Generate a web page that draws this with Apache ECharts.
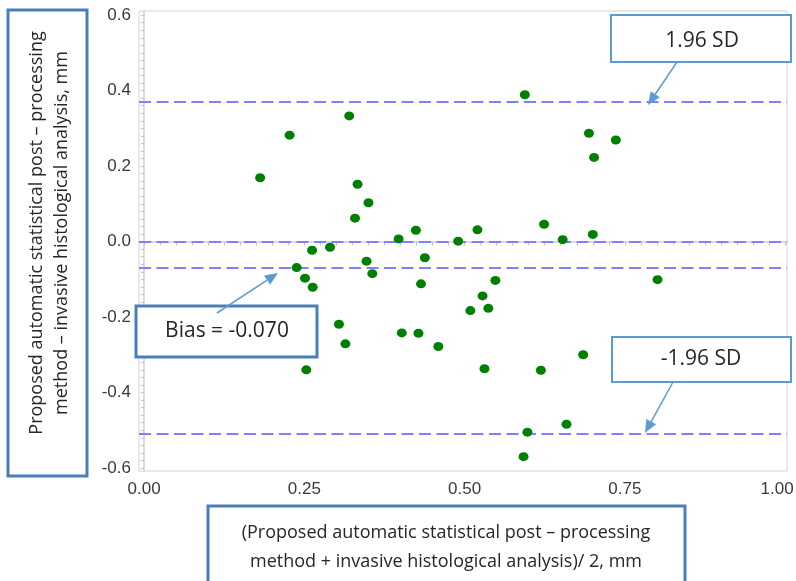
<!DOCTYPE html>
<html>
<head>
<meta charset="utf-8">
<script src="https://cdn.jsdelivr.net/npm/echarts@6/dist/echarts.min.js"></script>
<style>
  html, body { margin: 0; padding: 0; background: #fff; overflow: hidden; }
  #chart { width: 796px; height: 581px; }
</style>
</head>
<body>
<div id="chart"></div>
<script>
// Mean of the two methods (mm)
const meanVals = [
  0.181, 0.227, 0.320, 0.333, 0.350, 0.329, 0.397, 0.424, 0.594, 0.694,
  0.736, 0.702, 0.520, 0.490, 0.624, 0.653, 0.700, 0.262, 0.290, 0.238,
  0.251, 0.263, 0.347, 0.356, 0.438, 0.432, 0.304, 0.314, 0.402, 0.428,
  0.459, 0.253, 0.548, 0.528, 0.509, 0.537, 0.531, 0.619, 0.685, 0.801,
  0.598, 0.659, 0.592
];
// Difference between the two methods (mm)
const diffVals = [
  0.169, 0.282, 0.333, 0.152, 0.103, 0.062, 0.007, 0.030, 0.389, 0.287,
  0.269, 0.223, 0.031, 0.001, 0.046, 0.005, 0.019, -0.023, -0.015, -0.069,
  -0.097, -0.121, -0.052, -0.085, -0.043, -0.112, -0.219, -0.271, -0.242, -0.243,
  -0.278, -0.340, -0.103, -0.144, -0.183, -0.177, -0.337, -0.341, -0.300, -0.101,
  -0.505, -0.484, -0.570
];
// Reference lines: zero, bias and limits of agreement
const zeroLine = 0;
const bias = -0.070;
const upperLoA = 0.370;
const lowerLoA = -0.510;

const xTickLabels = [0, 0.25, 0.5, 0.75, 1.0];
const yTickLabels = [-0.6, -0.4, -0.2, 0, 0.2, 0.4, 0.6];

const yTitle = 'Proposed automatic statistical post \u2013 processing\nmethod \u2013 invasive histological analysis, mm';
const xTitle = '(Proposed automatic statistical post \u2013 processing\nmethod + invasive histological analysis)/ 2, mm';
const biasText = 'Bias = -0.070';
const upperText = '1.96 SD';
const lowerText = '-1.96 SD';

// minor tick positions along each axis
const xMinorTicks = [];
for (let i = 0; i <= 40; i++) xMinorTicks.push(+(i * 0.025).toFixed(3));
const yMinorTicks = [];
for (let i = -30; i <= 30; i++) yMinorTicks.push(+(i * 0.02).toFixed(2));

const points = meanVals.map((m, i) => [m, diffVals[i]]);

const chart = echarts.init(document.getElementById('chart'), null, { renderer: 'canvas' });

const axisGray = '#d2d2d2';
const tickFont = { color: '#3a3a3a', fontFamily: 'Liberation Sans', fontSize: 17 };
const boxBlue = '#4a7ebb';
const lightBlue = '#5b9bd5';
const annoFont = 'Open Sans';

function arrow(x1, y1, x2, y2) {
  const ang = Math.atan2(y2 - y1, x2 - x1);
  const len = 13, half = 5.5;
  const bx = x2 - len * Math.cos(ang), by = y2 - len * Math.sin(ang);
  const px = -Math.sin(ang) * half, py = Math.cos(ang) * half;
  return [
    { type: 'line', silent: true, z: 20,
      shape: { x1: x1, y1: y1, x2: bx, y2: by },
      style: { stroke: lightBlue, lineWidth: 1.5 } },
    { type: 'polygon', silent: true, z: 20,
      shape: { points: [[x2, y2], [bx + px, by + py], [bx - px, by - py]] },
      style: { fill: lightBlue } }
  ];
}

function box(x, y, w, h, color, lw, text, cx, cy, size, lineH, rot) {
  return [
    { type: 'rect', silent: true, z: 15,
      shape: { x: x, y: y, width: w, height: h },
      style: { fill: '#fff', stroke: color, lineWidth: lw } },
    { type: 'text', silent: true, z: 16, x: cx, y: cy, rotation: rot || 0,
      style: { text: text, fill: '#262626', font: size + 'px "' + annoFont + '"',
               align: 'center', verticalAlign: 'middle', lineHeight: lineH || size * 1.3 } }
  ];
}

const graphics = [].concat(
  box(8, 10, 79, 466, boxBlue, 3, yTitle, 49.5, 233, 18, 25, Math.PI / 2),
  box(208, 506, 477, 84, boxBlue, 3, xTitle, 446, 547.5, 18, 29),
  box(136, 306, 181, 51, boxBlue, 3, biasText, 227, 331, 21),
  box(611, 15, 180, 47, lightBlue, 2, upperText, 702, 41, 21),
  box(612, 337, 179, 45, lightBlue, 2, lowerText, 701, 359, 21),
  arrow(677, 62, 648, 105),
  arrow(673, 382, 645, 433),
  arrow(217, 313, 278, 273)
);

const option = {
  animation: false,
  backgroundColor: '#fff',
  grid: {
    left: 139, right: 9, top: 11, bottom: 110,
    outerBoundsMode: 'none',
    containLabel: false,
    show: true, borderColor: axisGray, borderWidth: 1, backgroundColor: '#fff'
  },
  xAxis: {
    type: 'value',
    min: -0.008, max: 1.003,
    splitLine: { show: false },
    axisLine: { show: true, lineStyle: { color: axisGray, width: 1.5 } },
    axisTick: { show: true, customValues: xMinorTicks, length: 4, lineStyle: { color: '#c4c4c4' } },
    axisLabel: Object.assign({
      customValues: xTickLabels, margin: 10,
      // the last label is nudged left so it stays inside the canvas
      formatter: v => (v >= 1 ? '{end|' + v.toFixed(2) + '}' : v.toFixed(2)),
      rich: { end: Object.assign({ padding: [0, 16, 0, 0] }, tickFont) }
    }, tickFont)
  },
  yAxis: {
    type: 'value',
    min: -0.608, max: 0.611,
    splitLine: { show: false },
    axisLine: { show: true, lineStyle: { color: axisGray, width: 1.5 } },
    axisTick: { show: true, customValues: yMinorTicks, length: 3, lineStyle: { color: '#c4c4c4' } },
    axisLabel: Object.assign({
      customValues: yTickLabels, margin: 8,
      formatter: v => v.toFixed(1)
    }, tickFont)
  },
  series: [{
    type: 'scatter',
    data: points,
    symbol: 'circle',
    symbolSize: [10, 9],
    itemStyle: { color: '#008000', opacity: 1 },
    z: 5,
    markLine: {
      silent: true,
      symbol: 'none',
      label: { show: false },
      lineStyle: { color: '#8080ff', width: 1.8, type: [12, 5.5] },
      data: [
        { yAxis: upperLoA },
        { yAxis: zeroLine },
        { yAxis: bias },
        { yAxis: lowerLoA }
      ]
    }
  }],
  graphic: graphics
};

chart.setOption(option);
</script>
</body>
</html>
